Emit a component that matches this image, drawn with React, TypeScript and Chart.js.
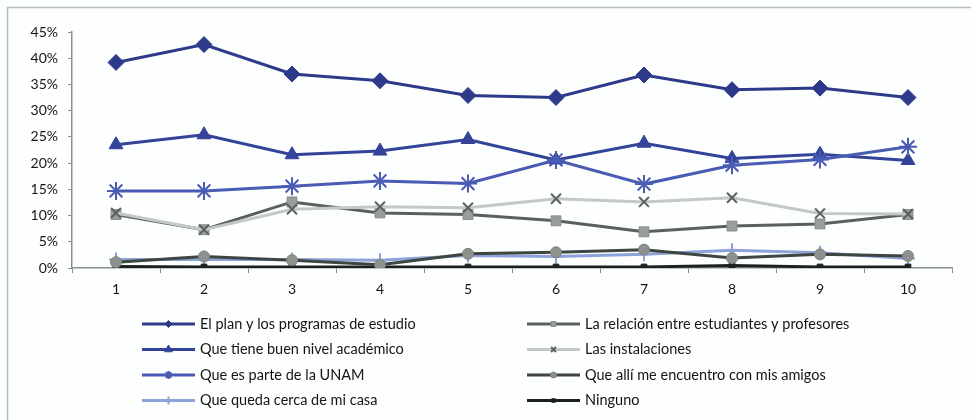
import React, { useEffect, useRef } from "react";
import { Chart, registerables } from "chart.js";
import { drawPoint } from "chart.js/helpers";

Chart.register(...registerables);

const categories = ["1", "2", "3", "4", "5", "6", "7", "8", "9", "10"];
const yTickLabels = ["0%", "5%", "10%", "15%", "20%", "25%", "30%", "35%", "40%", "45%"];

const planName = "El plan y los programas de estudio";
const planValues = [39.2, 42.6, 37.0, 35.7, 32.9, 32.5, 36.8, 34.0, 34.3, 32.5];

const nivelName = "Que tiene buen nivel académico";
const nivelValues = [23.5, 25.4, 21.6, 22.3, 24.5, 20.6, 23.8, 20.9, 21.7, 20.5];

const unamName = "Que es parte de la UNAM";
const unamValues = [14.7, 14.7, 15.6, 16.6, 16.1, 20.6, 16.0, 19.6, 20.7, 23.1];

const cercaName = "Que queda cerca de mi casa";
const cercaValues = [1.6, 1.6, 1.6, 1.5, 2.4, 2.2, 2.6, 3.4, 2.9, 1.8];

const relacionName = "La relación entre estudiantes y profesores";
const relacionValues = [10.2, 7.3, 12.6, 10.5, 10.2, 9.0, 6.9, 8.0, 8.4, 10.2];

const instalacionesName = "Las instalaciones";
const instalacionesValues = [10.5, 7.3, 11.2, 11.7, 11.5, 13.2, 12.6, 13.4, 10.4, 10.3];

const amigosName = "Que allí me encuentro con mis amigos";
const amigosValues = [1.1, 2.2, 1.5, 0.6, 2.7, 3.0, 3.5, 1.9, 2.6, 2.3];

const ningunoName = "Ninguno";
const ningunoValues = [0.3, 0.2, 0.2, 0.2, 0.2, 0.2, 0.2, 0.5, 0.2, 0.2];

const FONT = "Lato, 'Liberation Sans', sans-serif";

type DS = {
  label: string;
  data: number[];
  borderColor: string;
  pointStyle: any;
  pointRadius: number;
  pointBackgroundColor: string;
  pointBorderColor: string;
  pointBorderWidth: number;
  borderWidth: number;
  legendRadius: number;
};

function makeDatasets(): DS[] {
  return [
    { label: instalacionesName, data: instalacionesValues, borderColor: "#c3c8c8", pointStyle: "crossRot", pointRadius: 7, pointBackgroundColor: "#5a615e", pointBorderColor: "#5a615e", pointBorderWidth: 2, borderWidth: 3, legendRadius: 3.5 },
    { label: relacionName, data: relacionValues, borderColor: "#58625b", pointStyle: "rect", pointRadius: 7, pointBackgroundColor: "#9a9e9b", pointBorderColor: "#8a8e8b", pointBorderWidth: 1, borderWidth: 3, legendRadius: 3.5 },
    { label: amigosName, data: amigosValues, borderColor: "#3d4640", pointStyle: "circle", pointRadius: 5.5, pointBackgroundColor: "#8d928f", pointBorderColor: "#7d827f", pointBorderWidth: 1, borderWidth: 3, legendRadius: 3 },
    { label: ningunoName, data: ningunoValues, borderColor: "#1c211d", pointStyle: "rect", pointRadius: 4, pointBackgroundColor: "#1c211d", pointBorderColor: "#1c211d", pointBorderWidth: 1, borderWidth: 3, legendRadius: 2.5 },
    { label: cercaName, data: cercaValues, borderColor: "#8ea2da", pointStyle: "cross", pointRadius: 7, pointBackgroundColor: "#8ea2da", pointBorderColor: "#8ea2da", pointBorderWidth: 2, borderWidth: 3, legendRadius: 4 },
    { label: unamName, data: unamValues, borderColor: "#4a5bb3", pointStyle: "star", pointRadius: 9, pointBackgroundColor: "#4a5bb3", pointBorderColor: "#4a5bb3", pointBorderWidth: 2, borderWidth: 3, legendRadius: 4 },
    { label: nivelName, data: nivelValues, borderColor: "#33439a", pointStyle: "triangle", pointRadius: 8, pointBackgroundColor: "#33439a", pointBorderColor: "#33439a", pointBorderWidth: 1, borderWidth: 3, legendRadius: 4.5 },
    { label: planName, data: planValues, borderColor: "#2d3a8a", pointStyle: "rectRot", pointRadius: 8, pointBackgroundColor: "#2d3a8a", pointBorderColor: "#2d3a8a", pointBorderWidth: 1, borderWidth: 3, legendRadius: 3.5 },
  ];
}

const legendColumns: string[][] = [
  [planName, nivelName, unamName, cercaName],
  [relacionName, instalacionesName, amigosName, ningunoName],
];

const backgroundPlugin = {
  id: "bgframe",
  beforeDraw(chart: any) {
    const ctx = chart.ctx;
    ctx.save();
    ctx.fillStyle = "#fdfefe";
    ctx.fillRect(0, 0, chart.width, chart.height);
    ctx.strokeStyle = "#b3c0c3";
    ctx.lineWidth = 1.5;
    ctx.beginPath();
    ctx.moveTo(7.5, chart.height);
    ctx.lineTo(7.5, 7.5);
    ctx.lineTo(chart.width, 7.5);
    ctx.stroke();
    ctx.restore();
  },
};

const legendPlugin = {
  id: "gridLegend",
  afterDraw(chart: any) {
    const ctx = chart.ctx;
    const colX = [142, 527];
    const rowY = [324, 349.5, 375, 400.5];
    const lineLen = 53;
    ctx.save();
    legendColumns.forEach((col, ci) => {
      col.forEach((name, ri) => {
        const ds = chart.data.datasets.find((d: any) => d.label === name);
        if (!ds) return;
        const x0 = colX[ci];
        const y = rowY[ri];
        ctx.strokeStyle = ds.borderColor;
        ctx.lineWidth = 3;
        ctx.beginPath();
        ctx.moveTo(x0, y);
        ctx.lineTo(x0 + lineLen, y);
        ctx.stroke();
        ctx.fillStyle = ds.pointBackgroundColor;
        ctx.strokeStyle = ds.pointBorderColor;
        ctx.lineWidth = ds.pointBorderWidth;
        drawPoint(ctx, { pointStyle: ds.pointStyle, radius: ds.legendRadius, rotation: 0, borderWidth: ds.pointBorderWidth }, x0 + lineLen / 2, y);
        ctx.fillStyle = "#141414";
        ctx.font = `14.5px ${FONT}`;
        ctx.textBaseline = "middle";
        ctx.textAlign = "left";
        ctx.fillText(name, x0 + lineLen + 5, y);
      });
    });
    ctx.restore();
  },
};

export default function App() {
  const ref = useRef<HTMLCanvasElement | null>(null);
  useEffect(() => {
    if (!ref.current) return;
    const datasets = makeDatasets().map((d) => ({
      ...d,
      fill: false,
      tension: 0,
      pointHoverRadius: d.pointRadius,
    }));
    const chart = new Chart(ref.current, {
      type: "line",
      data: { labels: categories, datasets: datasets as any },
      plugins: [backgroundPlugin, legendPlugin],
      options: {
        animation: false,
        responsive: false,
        maintainAspectRatio: false,
        layout: { padding: { left: 8, right: 19, top: 32, bottom: 0 } },
        plugins: {
          legend: { display: false },
          tooltip: { enabled: false },
        },
        scales: {
          x: {
            type: "category",
            offset: true,
            grid: {
              display: true,
              offset: true,
              drawOnChartArea: false,
              drawTicks: true,
              tickLength: 5,
              color: "#8a8f8d",
            },
            border: { display: true, color: "#8a8f8d", width: 1.5 },
            ticks: {
              color: "#151515",
              font: { family: FONT, size: 14 },
              padding: 8,
              maxRotation: 0,
            },
            afterFit: (s: any) => {
              s.height = 152;
            },
          },
          y: {
            min: 0,
            max: 45,
            grid: {
              display: true,
              drawOnChartArea: false,
              drawTicks: true,
              tickLength: 4,
              color: "#8a8f8d",
            },
            border: { display: true, color: "#8a8f8d", width: 1.5 },
            ticks: {
              stepSize: 5,
              color: "#151515",
              font: { family: FONT, size: 14 },
              padding: 10,
              callback: (_v: any, i: number) => yTickLabels[i],
            },
            afterFit: (s: any) => {
              s.width = 64;
            },
          },
        },
      } as any,
    });
    return () => chart.destroy();
  }, []);
  return (
    <div style={{ position: "fixed", left: 0, top: 0, width: 971, height: 420, background: "#fff" }}>
      <canvas ref={ref} width={971} height={420} style={{ width: 971, height: 420, display: "block" }} />
    </div>
  );
}
